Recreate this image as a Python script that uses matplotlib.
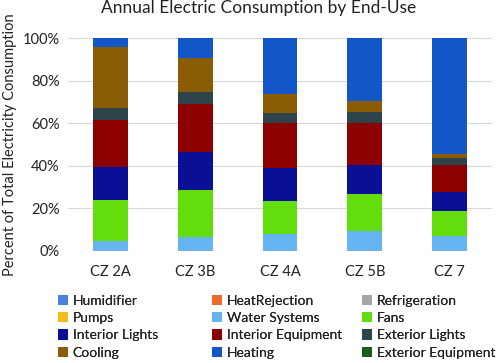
import matplotlib.pyplot as plt
import numpy as np

plt.rcParams['font.family'] = ['Lato', 'DejaVu Sans']

zones = ['CZ 2A', 'CZ 3B', 'CZ 4A', 'CZ 5B', 'CZ 7']

# percent of total electricity, bottom to top of each stack
humidifier = [0, 0, 0, 0, 0]
heat_rejection = [0, 0, 0, 0, 0]
refrigeration = [0, 0, 0, 0, 0]
pumps = [0, 0, 0, 0, 0]
water_systems = [4.7, 6.4, 7.8, 9.1, 7.0]
fans = [19.2, 22.2, 15.7, 17.5, 11.9]
interior_lights = [15.7, 17.7, 15.3, 13.8, 8.7]
interior_equipment = [21.9, 22.7, 21.1, 19.8, 12.8]
exterior_lights = [5.5, 5.8, 5.0, 4.9, 3.1]
cooling = [28.9, 15.7, 8.7, 5.5, 2.0]
heating = [4.1, 9.5, 26.4, 29.4, 54.5]
exterior_equipment = [0, 0, 0, 0, 0]

series = [
    ('Humidifier', humidifier, '#4a80e0'),
    ('HeatRejection', heat_rejection, '#ee6a2a'),
    ('Refrigeration', refrigeration, '#a6a6a6'),
    ('Pumps', pumps, '#f7bb1a'),
    ('Water Systems', water_systems, '#66b5f2'),
    ('Fans', fans, '#63dd0c'),
    ('Interior Lights', interior_lights, '#0a0f96'),
    ('Interior Equipment', interior_equipment, '#8c0000'),
    ('Exterior Lights', exterior_lights, '#2e434a'),
    ('Cooling', cooling, '#8a5c05'),
    ('Heating', heating, '#1256c8'),
    ('Exterior Equipment', exterior_equipment, '#1a5c1a'),
]

fig = plt.figure(figsize=(5, 3.63), dpi=100)
ax = fig.add_axes([0.136, 0.309, 0.848, 0.586])

x = np.arange(len(zones))
bottom = np.zeros(len(zones))
handles = {}
for name, vals, color in series:
    vals = np.array(vals, dtype=float)
    h = ax.bar(x, vals, 0.41, bottom=bottom, color=color, label=name, zorder=3)
    handles[name] = h
    bottom += vals

ax.set_xlim(-0.5, 4.5)
ax.set_ylim(0, 100)
ax.set_yticks(range(0, 101, 20))
ax.set_yticklabels(['%d%%' % v for v in range(0, 101, 20)])
ax.set_xticks(x)
ax.set_xticklabels(zones)
ax.yaxis.grid(True, color='#d9d9d9', linewidth=0.8, zorder=0)
for s in ax.spines.values():
    s.set_visible(False)
ax.tick_params(length=0, labelsize=10.5, colors='#222222', pad=6)
ax.tick_params(axis='x', pad=10)
ax.set_ylabel('Percent of Total Electricity Consumption', fontsize=10.5,
              color='#222222', labelpad=4)
fig.text(0.518, 0.963, 'Annual Electric Consumption by End-Use', fontsize=12.5,
         color='#222222', ha='center', va='baseline')

# legend: three columns, filled row by row
columns = [
    ['Humidifier', 'Pumps', 'Interior Lights', 'Cooling'],
    ['HeatRejection', 'Water Systems', 'Interior Equipment', 'Heating'],
    ['Refrigeration', 'Fans', 'Exterior Lights', 'Exterior Equipment'],
]
col_x = [58 / 500, 212 / 500, 362 / 500]
for names, cx in zip(columns, col_x):
    leg = fig.legend([handles[n] for n in names], names, loc='upper left',
                     bbox_to_anchor=(cx, 0.188), frameon=False, fontsize=10,
                     handlelength=0.75, handleheight=0.75, handletextpad=0.3,
                     labelspacing=0.38, borderpad=0, borderaxespad=0)
    for t in leg.get_texts():
        t.set_color('#222222')
    fig.add_artist(leg)

plt.savefig('out.png', dpi=100)
